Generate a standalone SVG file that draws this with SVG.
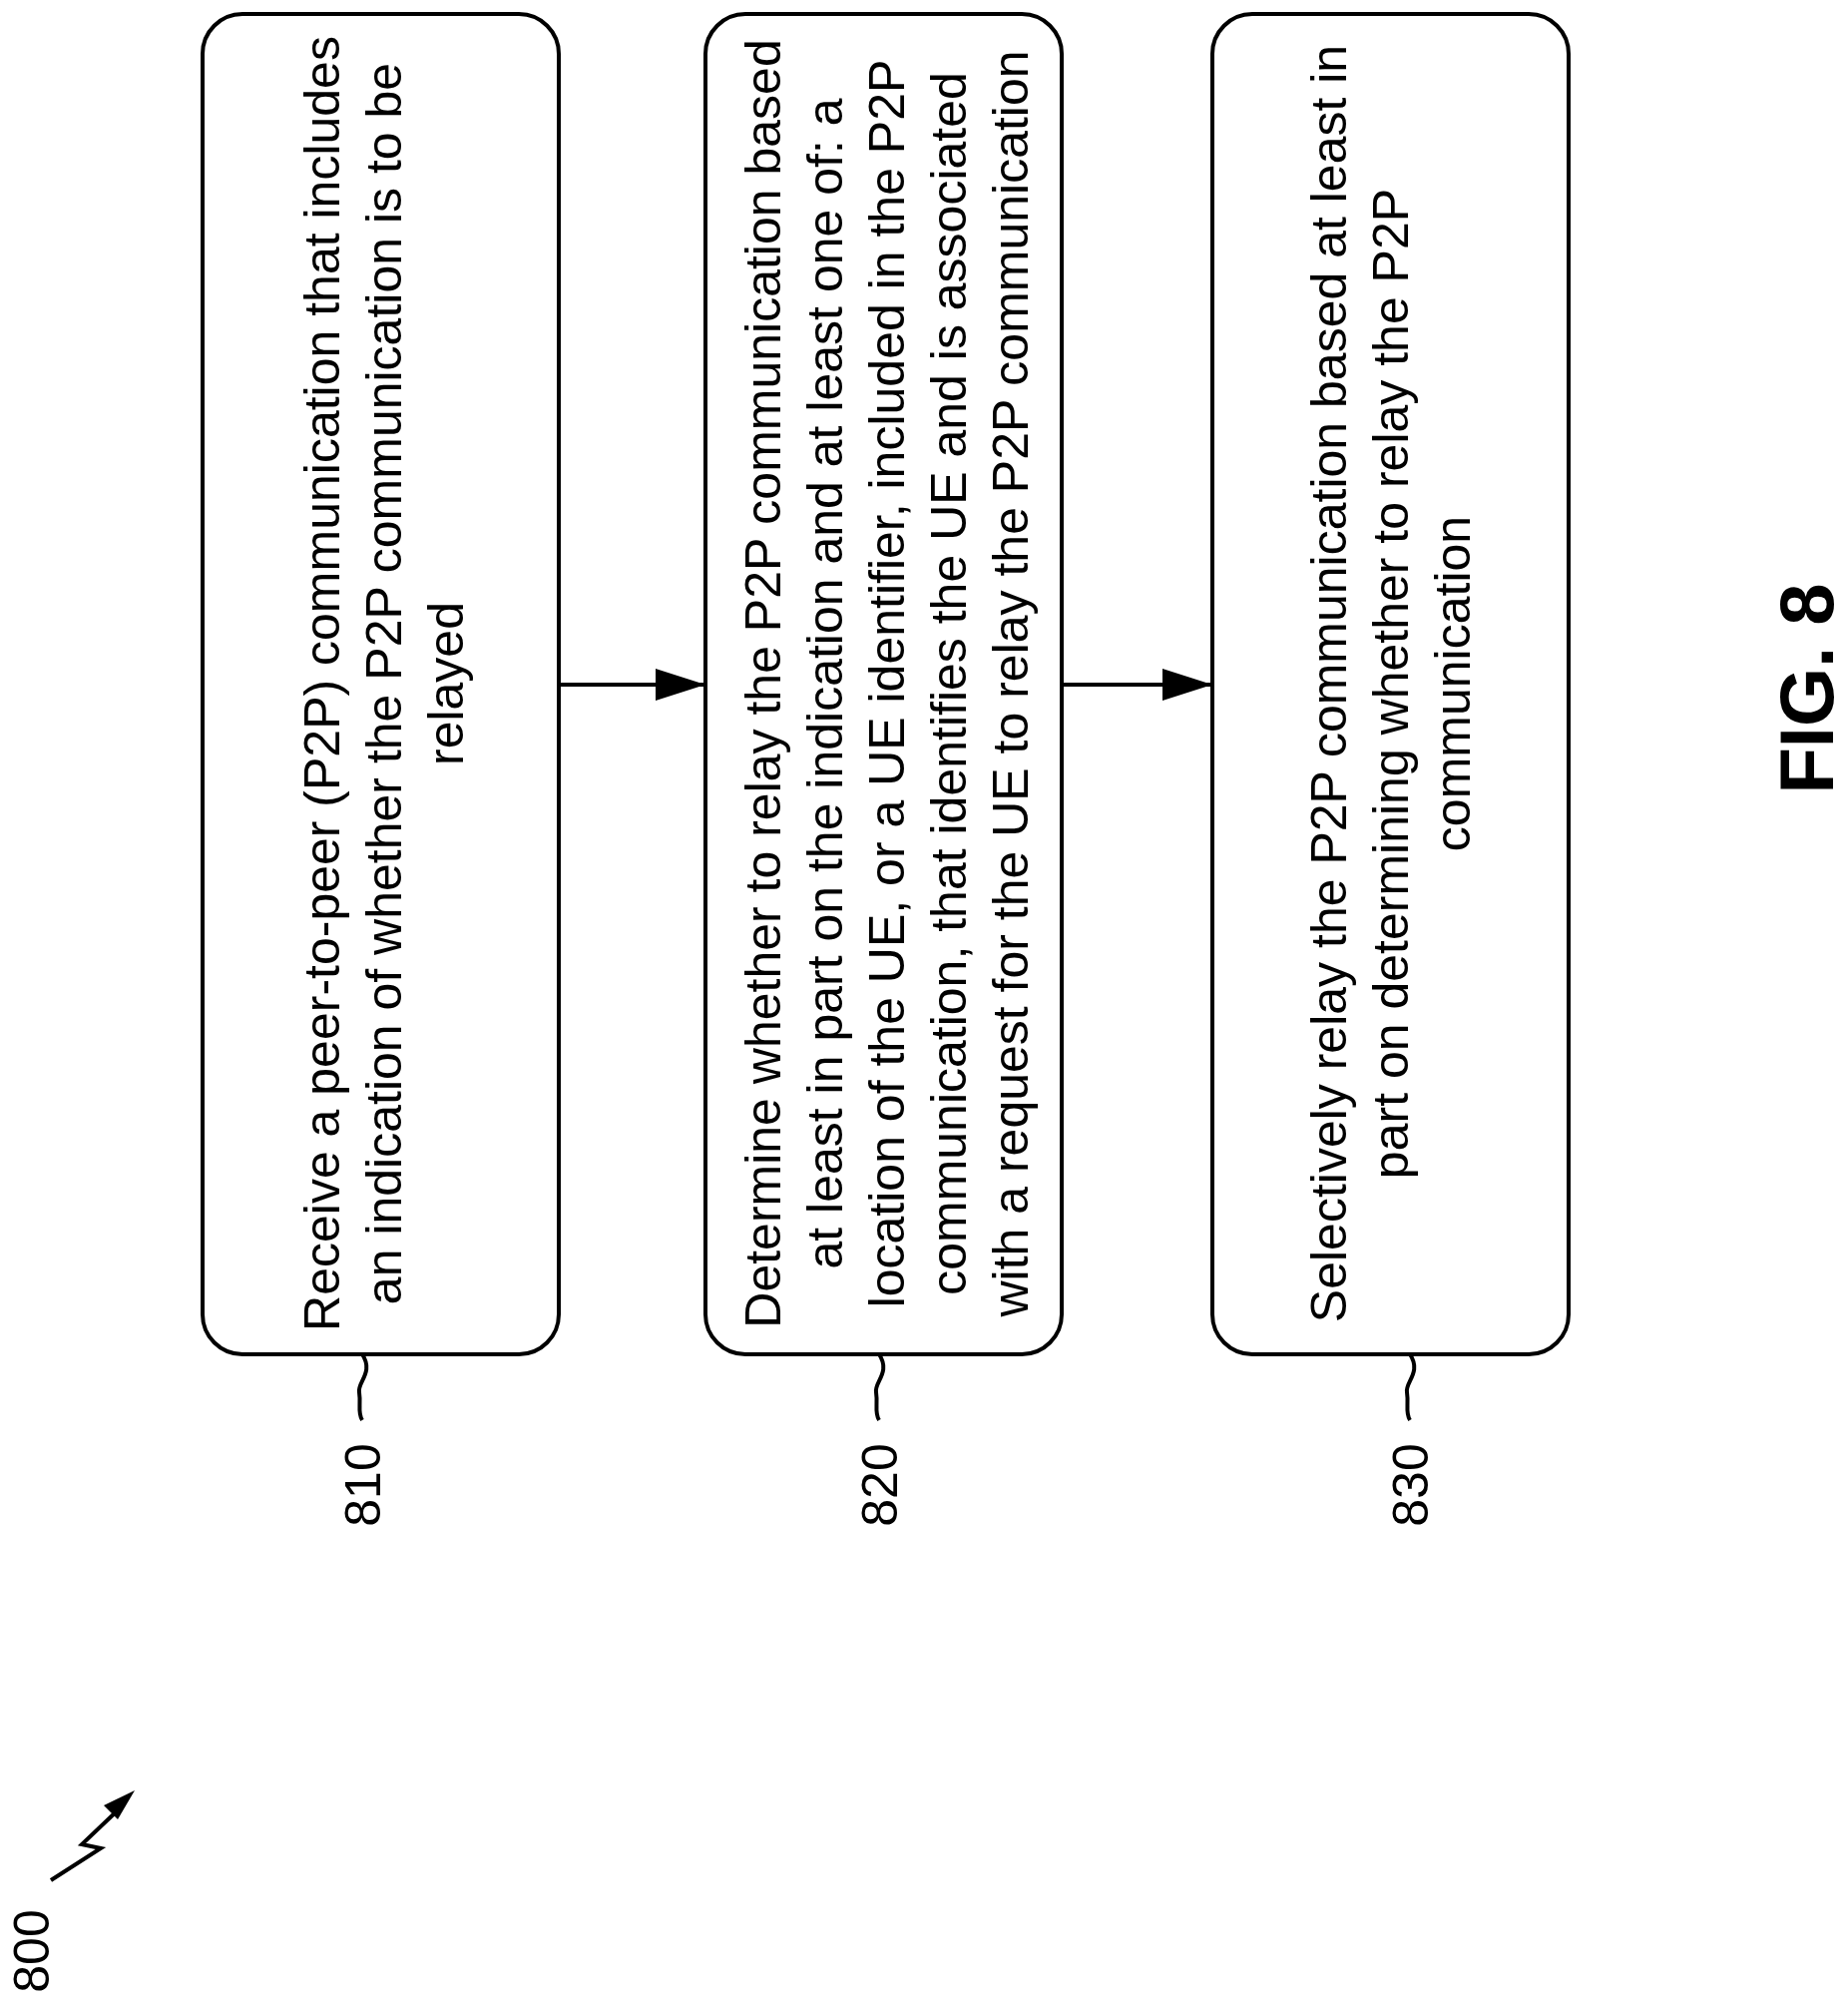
<svg xmlns="http://www.w3.org/2000/svg" width="1852" height="2011" viewBox="0 0 1852 2011">
<style>
.box{fill:#fff;stroke:#000;stroke-width:4}
.t{font-family:"Liberation Sans",Arial,sans-serif;font-size:50px;fill:#000;text-anchor:middle}
.c{fill:none;stroke:#000;stroke-width:4}
</style>
<defs>
<marker id="a" viewBox="0 0 50 32" refX="50" refY="16" markerWidth="50" markerHeight="32" markerUnits="userSpaceOnUse" orient="auto"><path d="M0,0 L50,16 L0,32 Z" fill="#000"/></marker></defs>
<rect width="1852" height="2011" fill="#fff"/>
<g id="n810"><rect class="box" x="203" y="14" width="357" height="1343" rx="40"/>
<g class="t" transform="translate(0,685)"><text transform="translate(340,0) rotate(-90)">Receive a peer-to-peer (P2P) communication that includes</text><text transform="translate(402,0) rotate(-90)">an indication of whether the P2P communication is to be</text><text transform="translate(464,0) rotate(-90)">relayed</text></g></g>
<g id="n820"><rect class="box" x="707" y="14" width="357" height="1343" rx="40"/>
<g class="t" transform="translate(0,685)"><text transform="translate(782,0) rotate(-90)">Determine whether to relay the P2P communication based</text><text transform="translate(844,0) rotate(-90)">at least in part on the indication and at least one of: a</text><text transform="translate(906,0) rotate(-90)">location of the UE, or a UE identifier, included in the P2P</text><text transform="translate(968,0) rotate(-90)">communication, that identifies the UE and is associated</text><text transform="translate(1030,0) rotate(-90)">with a request for the UE to relay the P2P communication</text></g></g>
<g id="n830"><rect class="box" x="1215" y="14" width="357" height="1343" rx="40"/>
<g class="t" transform="translate(0,685)"><text transform="translate(1349,0) rotate(-90)">Selectively relay the P2P communication based at least in</text><text transform="translate(1411,0) rotate(-90)">part on determining whether to relay the P2P</text><text transform="translate(1473,0) rotate(-90)">communication</text></g></g>
<g id="connectors">
<line class="c" x1="560" y1="686" x2="707" y2="686" marker-end="url(#a)"/>
<line class="c" x1="1064" y1="686" x2="1215" y2="686" marker-end="url(#a)"/>
<path class="c" d="M363,1357 C375,1375 358,1385 360,1395 C362,1408 358,1415 363,1423" stroke-width="3"/>
<path class="c" d="M881,1357 C893,1375 876,1385 878,1395 C880,1408 876,1415 881,1423" stroke-width="3"/>
<path class="c" d="M1413,1357 C1425,1375 1408,1385 1410,1395 C1412,1408 1408,1415 1413,1423" stroke-width="3"/>
<polyline class="c" points="51,1884 101,1852 82,1848 120,1812"/>
<path d="M135,1794 L104,1809 L118,1823 Z" fill="#000"/>
</g>
<g class="t">
<text transform="translate(381,1488) rotate(-90)">810</text>
<text transform="translate(899,1488) rotate(-90)">820</text>
<text transform="translate(1431,1488) rotate(-90)">830</text>
<text transform="translate(49,1955) rotate(-90)">800</text>
<text transform="translate(1837,690) rotate(-90)" style="font-weight:bold;font-size:76px">FIG. 8</text>
</g>
</svg>
